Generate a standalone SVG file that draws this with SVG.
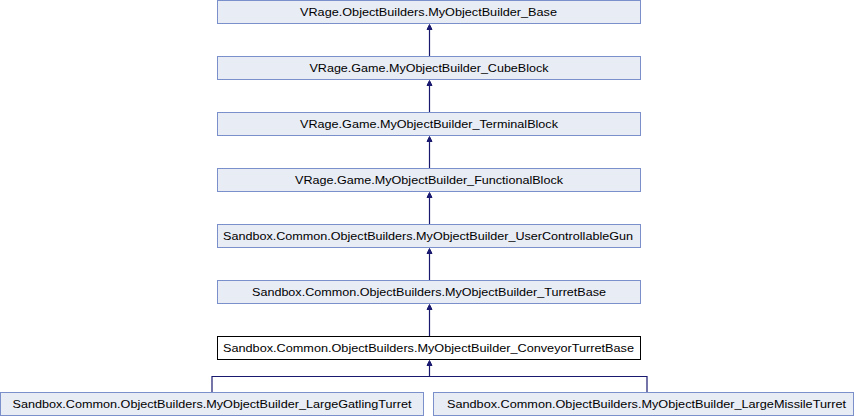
<svg xmlns="http://www.w3.org/2000/svg" width="858" height="416" viewBox="0 0 858 416">
<style>
.n{fill:#e8ecf5;stroke:#7b8fca;stroke-width:1}
.cur{fill:#ffffff;stroke:#000000;stroke-width:1}
text{font-family:"Liberation Sans",Arial,sans-serif;font-size:11.5px;fill:#000;text-anchor:middle}
.e{fill:none;stroke:#191970;stroke-width:1.2}
.h{fill:#191970;stroke:#191970;stroke-width:1}
</style>
<rect width="858" height="416" fill="#ffffff"/>
<g id="edges">
<path class="e" d="M429.5,56V29"/><polygon class="h" points="429.5,24.5 427,29.5 432,29.5"/>
<path class="e" d="M429.5,112V85"/><polygon class="h" points="429.5,80.5 427,85.5 432,85.5"/>
<path class="e" d="M429.5,168V141"/><polygon class="h" points="429.5,136.5 427,141.5 432,141.5"/>
<path class="e" d="M429.5,224V197"/><polygon class="h" points="429.5,192.5 427,197.5 432,197.5"/>
<path class="e" d="M429.5,280V253"/><polygon class="h" points="429.5,248.5 427,253.5 432,253.5"/>
<path class="e" d="M429.5,336V309"/><polygon class="h" points="429.5,304.5 427,309.5 432,309.5"/>
<path class="e" d="M212,392V376.5H647V392M429.5,376.5V365"/><polygon class="h" points="429.5,360.5 427,365.5 432,365.5"/>
</g>
<g id="n0"><rect class="n" x="217.5" y="0.5" width="423" height="23"/><text x="428.5" y="15.5" textLength="257" lengthAdjust="spacingAndGlyphs">VRage.ObjectBuilders.MyObjectBuilder_Base</text></g>
<g id="n1"><rect class="n" x="217.5" y="56.5" width="423" height="23"/><text x="429" y="71.5" textLength="239" lengthAdjust="spacingAndGlyphs">VRage.Game.MyObjectBuilder_CubeBlock</text></g>
<g id="n2"><rect class="n" x="217.5" y="112.5" width="423" height="23"/><text x="429" y="127.5" textLength="258" lengthAdjust="spacingAndGlyphs">VRage.Game.MyObjectBuilder_TerminalBlock</text></g>
<g id="n3"><rect class="n" x="217.5" y="168.5" width="423" height="23"/><text x="429" y="183.5" textLength="268" lengthAdjust="spacingAndGlyphs">VRage.Game.MyObjectBuilder_FunctionalBlock</text></g>
<g id="n4"><rect class="n" x="217.5" y="224.5" width="423" height="23"/><text x="428" y="239.5" textLength="410" lengthAdjust="spacingAndGlyphs">Sandbox.Common.ObjectBuilders.MyObjectBuilder_UserControllableGun</text></g>
<g id="n5"><rect class="n" x="217.5" y="280.5" width="423" height="23"/><text x="429" y="295.5" textLength="354" lengthAdjust="spacingAndGlyphs">Sandbox.Common.ObjectBuilders.MyObjectBuilder_TurretBase</text></g>
<g id="n6"><rect class="cur" x="217.5" y="336.5" width="423" height="23"/><text x="428.5" y="351.5" textLength="411" lengthAdjust="spacingAndGlyphs">Sandbox.Common.ObjectBuilders.MyObjectBuilder_ConveyorTurretBase</text></g>
<g id="n7"><rect class="n" x="0.5" y="392.5" width="423" height="23"/><text x="212" y="407.5" textLength="399" lengthAdjust="spacingAndGlyphs">Sandbox.Common.ObjectBuilders.MyObjectBuilder_LargeGatlingTurret</text></g>
<g id="n8"><rect class="n" x="433.5" y="392.5" width="420" height="23"/><text x="646.5" y="407.5" textLength="399" lengthAdjust="spacingAndGlyphs">Sandbox.Common.ObjectBuilders.MyObjectBuilder_LargeMissileTurret</text></g>
</svg>
